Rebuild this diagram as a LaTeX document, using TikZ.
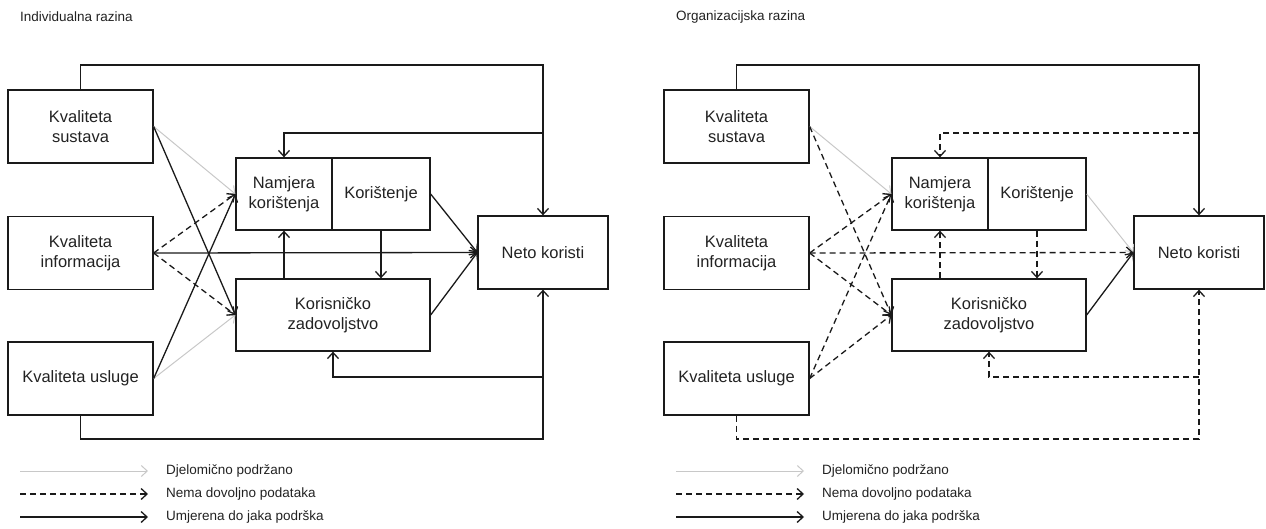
\documentclass[tikz,border=0pt]{standalone}
\usepackage{fontspec}
\setmainfont{Liberation Sans}
\usetikzlibrary{arrows.meta}
\definecolor{lightg}{HTML}{C8C8C8}
\definecolor{txt}{HTML}{222222}
\definecolor{ink}{HTML}{1A1A1A}
\begin{document}
\begin{tikzpicture}[x=1pt,y=-1pt,
  box/.style={draw=ink, line width=1.3pt, rectangle, inner sep=0pt, align=center,
    font=\fontsize{16.5}{19.5}\selectfont, text=txt},
  outerbox/.style={box, minimum width=145pt, minimum height=73pt},
  conn/.style={line width=1.3pt, -{Straight Barb[length=6pt,width=11pt]}},
  solidc/.style={conn, draw=ink},
  grayc/.style={conn, draw=lightg, line width=1pt},
  dashc/.style={conn, draw=ink, dash pattern=on 6pt off 4pt},
  lbl/.style={anchor=west, inner sep=0pt, font=\fontsize{13.5}{16}\selectfont, text=txt}
]
\useasboundingbox (0,0) rectangle (1266,529);

% ================= LEFT: Individualna razina =================
\node[lbl] (Ltitle) at (20,17) {Individualna razina};
\node[outerbox] (LKS) at (80.5,126.5) {Kvaliteta\\sustava};
\node[outerbox] (LKI) at (80.5,253) {Kvaliteta\\informacija};
\node[outerbox] (LKU) at (80.5,378.5) {Kvaliteta usluge};
\node[box, minimum width=96pt, minimum height=72pt] (LNK) at (284,194) {Namjera\\korištenja};
\node[box, minimum width=98pt, minimum height=72pt] (LKO) at (381,194) {Korištenje};
\node[box, minimum width=194pt, minimum height=72pt] (LKZ) at (333,315) {Korisničko\\zadovoljstvo};
\node[box, minimum width=130pt, minimum height=73pt] (LNE) at (543,252.5) {Neto koristi};

\coordinate (LTc) at (543,65);
\coordinate (LTJ) at (543,133);
\coordinate (LBc) at (543,439);
\coordinate (LBJ) at (543,377);

\draw[grayc] (LKS.east) -- (LNK.west);
\draw[grayc] (LKU.east) -- (LKZ.west);
\draw[solidc] (LKS.east) -- (LKZ.west);
\draw[dashc] (LKI.east) -- (LNK.west);
\draw[dashc] (LKI.east) -- (LKZ.west);
\draw[solidc] (LKI.east) -- (LNE.west);
\draw[solidc] (LKU.east) -- (LNK.west);
\draw[solidc] (LNK.south |- LKZ.north) -- (LNK.south);
\draw[solidc] (LKO.south) -- (LKO.south |- LKZ.north);
\draw[solidc] (LKO.east) -- (LNE.west);
\draw[solidc] (LKZ.east) -- (LNE.west);
\draw[solidc] (LKS.north) |- (LTc) -- (LNE.north);
\draw[solidc] (LTJ) -| (LNK.north);
\draw[solidc] (LKU.south) |- (LBc) -- (LNE.south);
\draw[solidc] (LBJ) -| (LKZ.south);

% legend left
\coordinate (LL1a) at (20,471); \coordinate (LL1b) at (148,471);
\coordinate (LL2a) at (20,494); \coordinate (LL2b) at (148,494);
\coordinate (LL3a) at (20,517); \coordinate (LL3b) at (148,517);
\draw[grayc] (LL1a) -- (LL1b);
\draw[dashc] (LL2a) -- (LL2b);
\draw[solidc] (LL3a) -- (LL3b);
\node[lbl] (LLt1) at (166,471) {Djelomično podržano};
\node[lbl] (LLt2) at (166,494) {Nema dovoljno podataka};
\node[lbl] (LLt3) at (166,517) {Umjerena do jaka podrška};

% ================= RIGHT: Organizacijska razina =================
\begin{scope}[shift={(656,0)}]
\node[lbl] (Rtitle) at (20,17) {Organizacijska razina};
\node[outerbox] (RKS) at (80.5,126.5) {Kvaliteta\\sustava};
\node[outerbox] (RKI) at (80.5,253) {Kvaliteta\\informacija};
\node[outerbox] (RKU) at (80.5,378.5) {Kvaliteta usluge};
\node[box, minimum width=96pt, minimum height=72pt] (RNK) at (284,194) {Namjera\\korištenja};
\node[box, minimum width=98pt, minimum height=72pt] (RKO) at (381,194) {Korištenje};
\node[box, minimum width=194pt, minimum height=72pt] (RKZ) at (333,315) {Korisničko\\zadovoljstvo};
\node[box, minimum width=130pt, minimum height=73pt] (RNE) at (543,252.5) {Neto koristi};

\coordinate (RTc) at (543,65);
\coordinate (RTJ) at (543,133);
\coordinate (RBc) at (543,439);
\coordinate (RBJ) at (543,377);

\draw[grayc] (RKS.east) -- (RNK.west);
\draw[grayc] (RKO.east) -- (RNE.west);
\draw[dashc] (RKS.east) -- (RKZ.west);
\draw[dashc] (RKI.east) -- (RNK.west);
\draw[dashc] (RKI.east) -- (RKZ.west);
\draw[dashc] (RKI.east) -- (RNE.west);
\draw[dashc] (RKU.east) -- (RNK.west);
\draw[dashc] (RKU.east) -- (RKZ.west);
\draw[dashc] (RNK.south |- RKZ.north) -- (RNK.south);
\draw[dashc] (RKO.south) -- (RKO.south |- RKZ.north);
\draw[solidc] (RKZ.east) -- (RNE.west);
\draw[solidc] (RKS.north) |- (RTc) -- (RNE.north);
\draw[dashc] (RTJ) -| (RNK.north);
\draw[dashc] (RKU.south) |- (RBc) -- (RNE.south);
\draw[dashc] (RBJ) -| (RKZ.south);

% legend right
\coordinate (RL1a) at (20,471); \coordinate (RL1b) at (148,471);
\coordinate (RL2a) at (20,494); \coordinate (RL2b) at (148,494);
\coordinate (RL3a) at (20,517); \coordinate (RL3b) at (148,517);
\draw[grayc] (RL1a) -- (RL1b);
\draw[dashc] (RL2a) -- (RL2b);
\draw[solidc] (RL3a) -- (RL3b);
\node[lbl] (RLt1) at (166,471) {Djelomično podržano};
\node[lbl] (RLt2) at (166,494) {Nema dovoljno podataka};
\node[lbl] (RLt3) at (166,517) {Umjerena do jaka podrška};
\end{scope}
\end{tikzpicture}
\end{document}
